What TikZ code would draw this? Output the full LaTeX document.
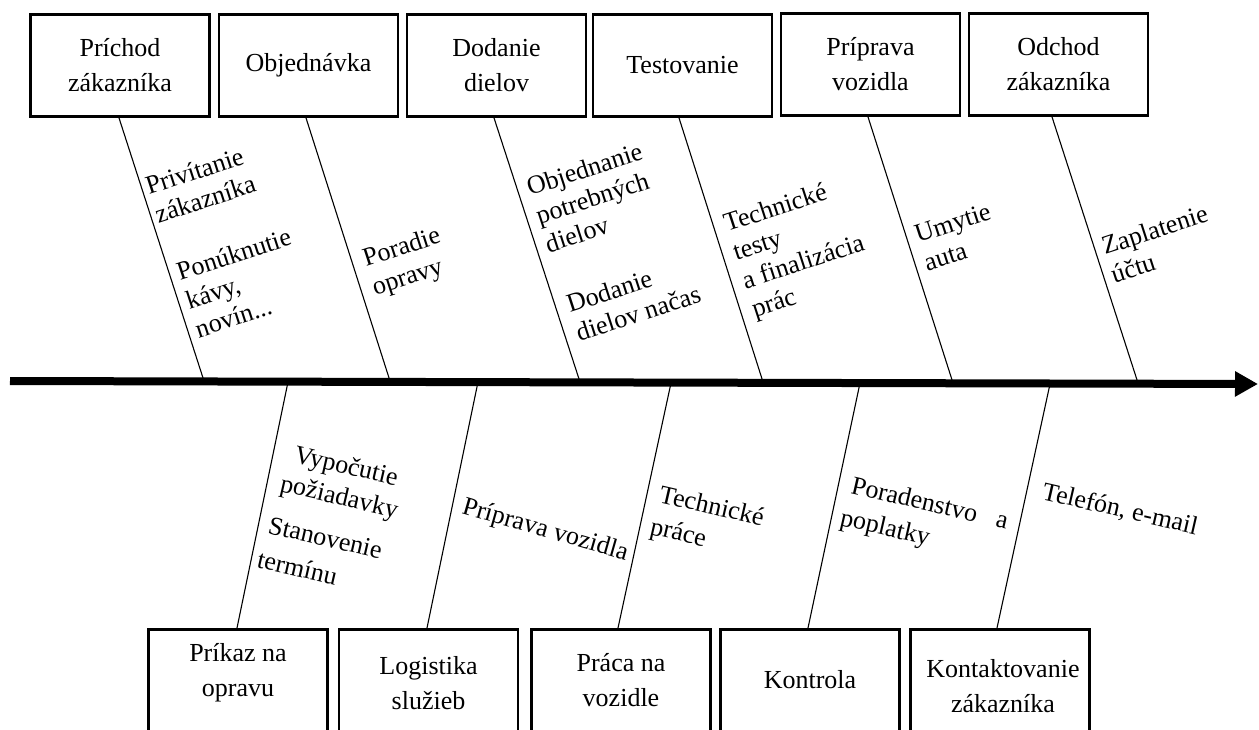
\documentclass[tikz,border=0pt]{standalone}
\usepackage{fontspec}
\setmainfont{Liberation Serif}
\usetikzlibrary{arrows.meta}
\newcommand\boxfont{\fontsize{26pt}{35pt}\selectfont}
\newcommand\lblfont{\fontsize{26pt}{30pt}\selectfont}
\newcommand\stack[1]{\begin{tabular}[t]{@{}l@{}}#1\end{tabular}}
\begin{document}
\begin{tikzpicture}[x=1pt,y=-1pt,
  box/.style={draw, line width=2.8pt, minimum width=179pt, minimum height=102pt,
              inner sep=0pt, align=center, font=\boxfont},
  lowbox/.style={box, minimum height=130pt, anchor=north},
  boxtext/.style={align=center, inner sep=0pt, font=\boxfont},
  bone/.style={line width=1.1pt},
  spine/.style={line width=8pt, -{Triangle[length=23pt,width=24pt]}},
  toplbl/.style={rotate=18, anchor=base west, inner sep=0pt, font=\lblfont},
  botlbl/.style={rotate=-13, anchor=base west, inner sep=0pt, font=\lblfont}]
\useasboundingbox (0,0) rectangle (1259,730);
\clip (0,0) rectangle (1259,730);

% main arrow
\coordinate (sa) at (10,381);
\coordinate (sb) at (1258,384);
\draw[spine] (sa) -- (sb);

% upper categories
\node[box] (t1) at (120,65.5) {Príchod\\zákazníka};
\node[box] (t2) at (308.5,65.5) {Objednávka};
\node[box] (t3) at (496.5,65.5) {Dodanie\\dielov};
\node[box] (t4) at (682.5,65.5) {Testovanie};
\node[box] (t5) at (870.5,64.5) {Príprava\\vozidla};
\node[box] (t6) at (1058.5,64.5) {Odchod\\zákazníka};

% lower categories
\node[lowbox] (b1) at (238,628) {};
\node[lowbox] (b2) at (428.5,628) {};
\node[lowbox] (b3) at (621,628) {};
\node[lowbox] (b4) at (810,628) {};
\node[lowbox] (b5) at (1000,628) {};
\node[boxtext] (b1t) at (238,673) {Príkaz na\\opravu};
\node[boxtext] (b2t) at (428.5,683) {Logistika\\služieb};
\node[boxtext] (b3t) at (621,680) {Práca na\\vozidle};
\node[boxtext] (b4t) at (810,680) {Kontrola};
\node[boxtext] (b5t) at (1003,686) {Kontaktovanie\\zákazníka};

% points where the bones meet the arrow
\coordinate (u1) at (204,381);
\coordinate (u2) at (390,381);
\coordinate (u3) at (580,382);
\coordinate (u4) at (763,382);
\coordinate (u5) at (953,383);
\coordinate (u6) at (1138,383);
\coordinate (l1) at (288,382);
\coordinate (l2) at (478,382);
\coordinate (l3) at (671,383);
\coordinate (l4) at (860,383);
\coordinate (l5) at (1050,384);

% bones
\draw[bone] ([xshift=-1pt]t1.south) -- (u1);
\draw[bone] ([xshift=-2.5pt]t2.south) -- (u2);
\draw[bone] ([xshift=-2.5pt]t3.south) -- (u3);
\draw[bone] ([xshift=-3.5pt]t4.south) -- (u4);
\draw[bone] ([xshift=-2.5pt]t5.south) -- (u5);
\draw[bone] ([xshift=-6.5pt]t6.south) -- (u6);
\draw[bone] ([xshift=-1pt]b1.north) -- (l1);
\draw[bone] ([xshift=-1.5pt]b2.north) -- (l2);
\draw[bone] ([xshift=-3pt]b3.north) -- (l3);
\draw[bone] ([xshift=-2pt]b4.north) -- (l4);
\draw[bone] ([xshift=-3pt]b5.north) -- (l5);

% causes above the arrow
\node[toplbl] (c1) at (149,195) {\stack{Privítanie\\zákazníka}};
\node[toplbl] (c2) at (180,281) {\stack{Ponúknutie\\kávy,\\novín...}};
\node[toplbl] (c3) at (366,267) {\stack{Poradie\\opravy}};
\node[toplbl] (c4) at (530,196) {\stack{Objednanie\\potrebných\\dielov}};
\node[toplbl] (c5) at (570,313) {\stack{Dodanie\\dielov načas}};
\node[toplbl] (c6) at (727,232) {\stack{Technické\\testy\\a finalizácia\\prác}};
\node[toplbl] (c7) at (918,243) {\stack{Umytie\\auta}};
\node[toplbl] (c8) at (1105,255) {\stack{Zaplatenie\\účtu}};

% causes below the arrow
\node[botlbl] (d1) at (293,462) {Vypočutie};
\node[botlbl] (d2) at (279,491) {požiadavky};
\node[botlbl] (d3) at (267,533) {Stanovenie};
\node[botlbl] (d4) at (256,567) {termínu};
\node[botlbl, rotate=-3] (d5) at (461,513) {Príprava vozidla};
\node[botlbl] (d6) at (658,502) {Technické};
\node[botlbl] (d7) at (649,534) {práce};
\node[botlbl] (d8) at (850,493) {Poradenstvo\hspace{20pt}a};
\node[botlbl] (d9) at (839,525) {poplatky};
\node[botlbl] (d10) at (1041,499) {Telefón, e-mail};
\end{tikzpicture}
\end{document}
